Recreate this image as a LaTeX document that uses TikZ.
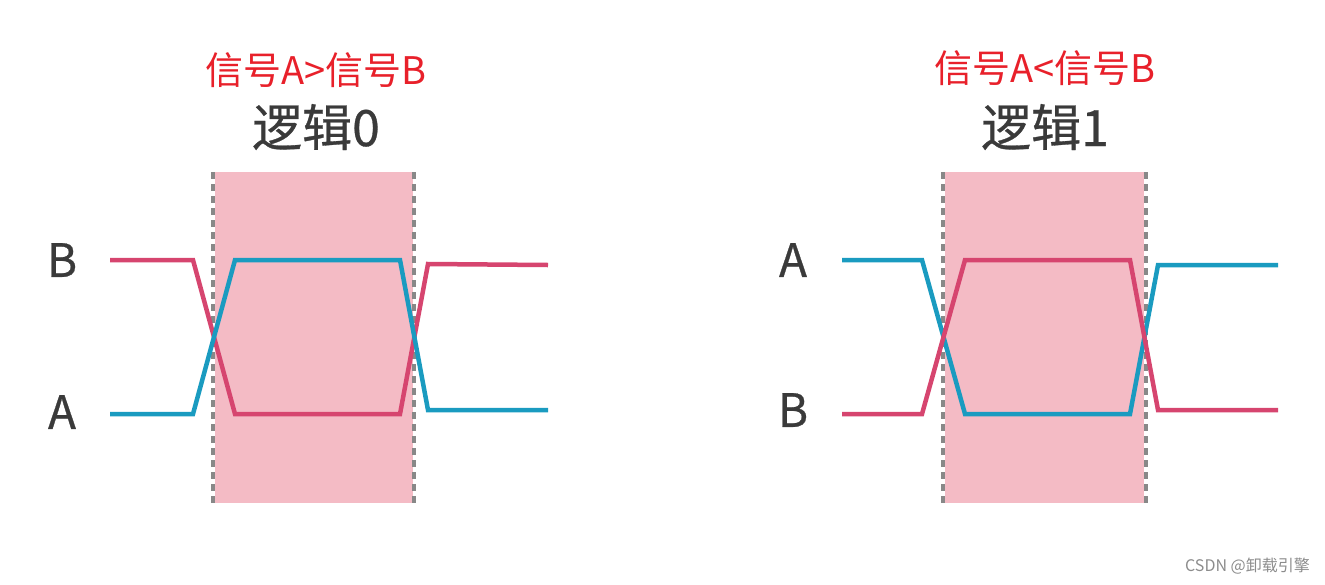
\documentclass[tikz,border=0pt]{standalone}
\usepackage{fontspec}
\setmainfont{Noto Sans CJK SC}
\newfontfamily\cjk{Noto Sans CJK SC}
\newfontfamily\cjkm[FakeBold=0.6]{Noto Sans CJK SC}
\definecolor{sigpink}{HTML}{D6456F}
\definecolor{sigblue}{HTML}{1A9BC0}
\definecolor{zonefill}{HTML}{F4BBC5}
\definecolor{edgegray}{HTML}{888888}
\definecolor{titlered}{HTML}{E8202A}
\definecolor{textgray}{HTML}{3A3A3A}
\begin{document}
\begin{tikzpicture}[x=1pt,y=-1pt,
  zone/.style={fill=zonefill,draw=none},
  edgeline/.style={draw=edgegray,line width=4.5pt,dash pattern=on 7pt off 5pt},
  wave/.style={line width=4.5pt,line join=miter},
  siglabel/.style={font=\cjkm\fontsize{46}{46}\selectfont,text=textgray,inner sep=0pt},
  cond/.style={font=\cjk\fontsize{38}{38}\selectfont,text=titlered,inner sep=0pt},
  logic/.style={font=\cjkm\fontsize{50}{50}\selectfont,text=textgray,inner sep=0pt},
  wmark/.style={font=\cjk\fontsize{16}{16}\selectfont,text=black!45,inner sep=0pt,anchor=east}]
\useasboundingbox (0,0) rectangle (1325,584);
% left panel
\fill[zone] (215,172) rectangle (413,503);
\draw[edgeline] (213,172) -- (213,503);
\draw[edgeline] (414,172) -- (414,503);
\draw[wave,sigpink] (110,260) -- (193,260) -- (235,414) -- (400,414) -- (428,264) -- (548,265);
\draw[wave,sigblue] (110,414) -- (193,414) -- (235,260) -- (400,260) -- (428,410) -- (548,410);
\node[siglabel] (lb) at (62,260) {B};
\node[siglabel] (la) at (62,412) {A};
\node[cond] (lc) at (316,70) {信号A>信号B};
\node[logic] (ll) at (316,127) {逻辑0};
% right panel
\fill[zone] (945,172) rectangle (1144,503);
\draw[edgeline] (943,172) -- (943,503);
\draw[edgeline] (1146,172) -- (1146,503);
\draw[wave,sigblue] (842,260) -- (922,260) -- (965,414) -- (1130,414) -- (1158,265) -- (1278,265);
\draw[wave,sigpink] (842,414) -- (922,414) -- (965,260) -- (1130,260) -- (1158,410) -- (1278,410);
\node[siglabel] (ra) at (793,260) {A};
\node[siglabel] (rb) at (793,410) {B};
\node[cond] (rc) at (1045,68) {信号A<信号B};
\node[logic] (rl) at (1045,127) {逻辑1};
\node[wmark] (wm) at (1310,566) {CSDN @卸载引擎};
\end{tikzpicture}
\end{document}
